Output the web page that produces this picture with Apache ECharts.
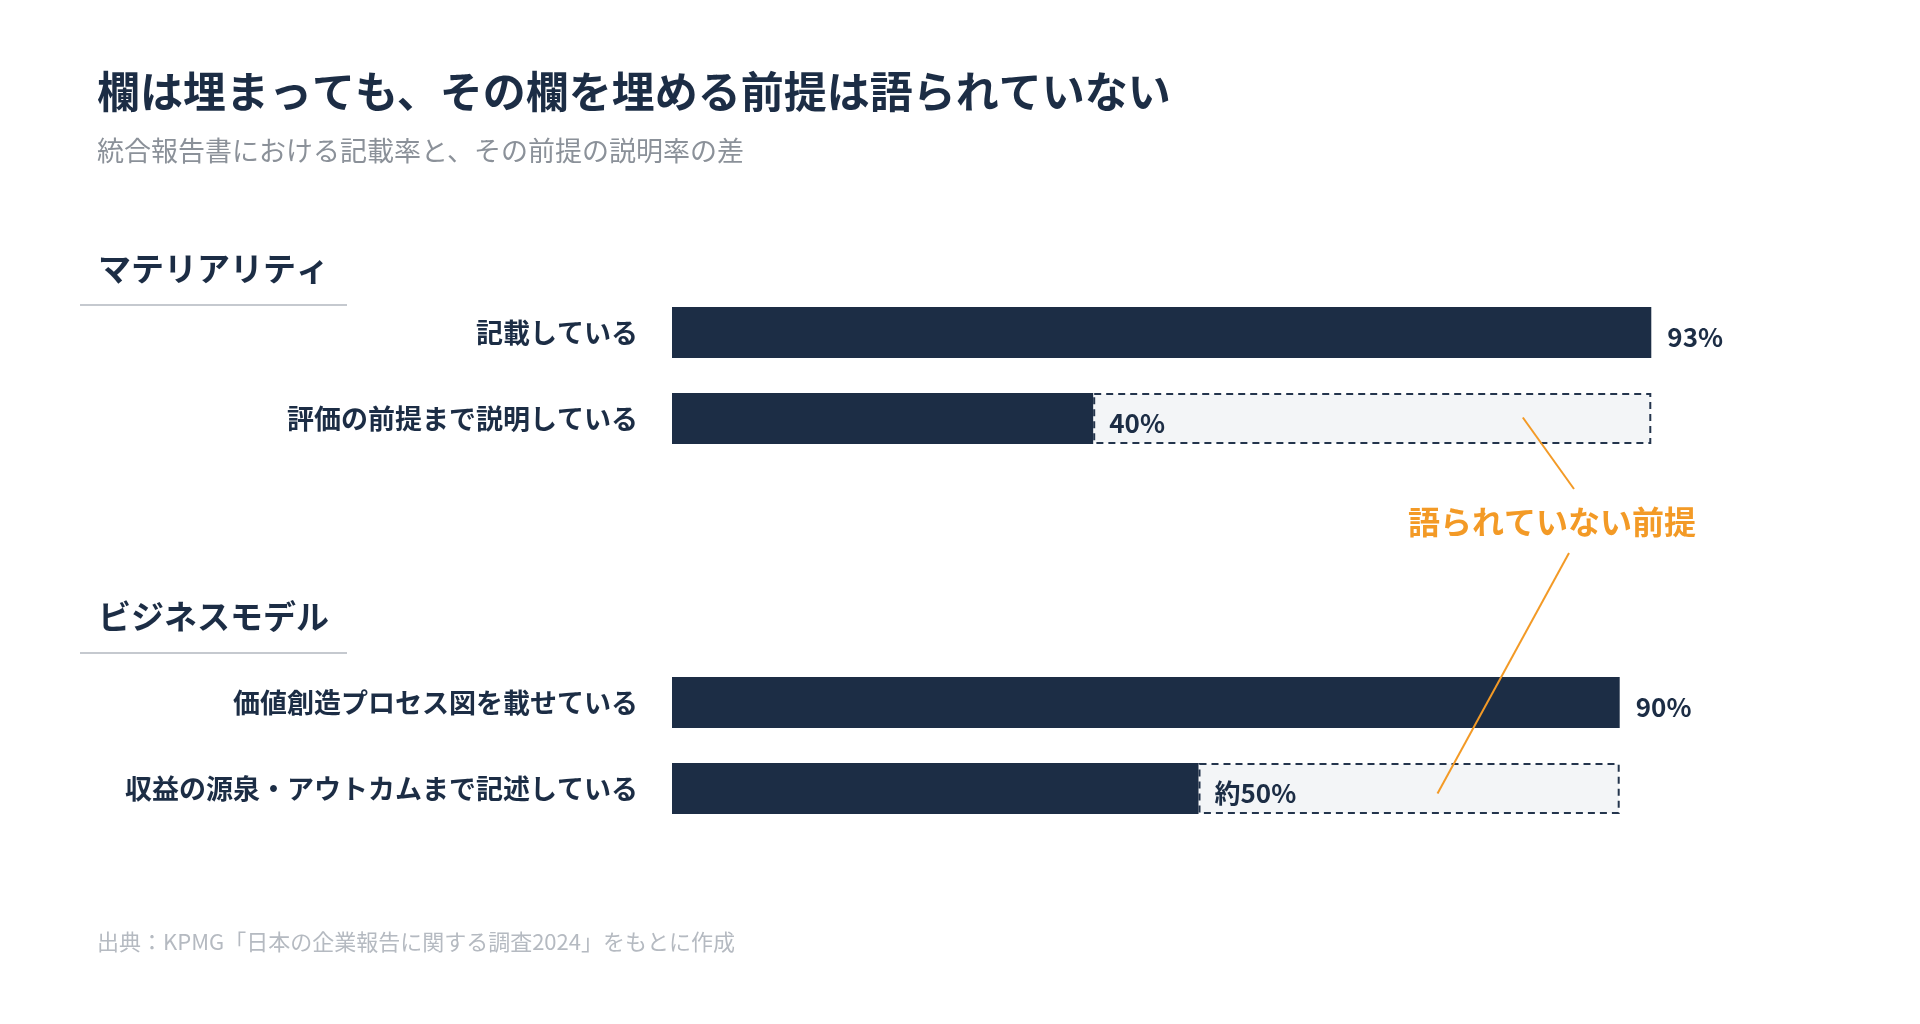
<!DOCTYPE html>
<html>
<head>
<meta charset="utf-8">
<script src="https://cdn.jsdelivr.net/npm/echarts@6/dist/echarts.min.js"></script>
<style>
html,body{margin:0;padding:0;background:#ffffff;}
#main{width:1920px;height:1024px;}
</style>
</head>
<body>
<div id="main"></div>
<script>
// ---- data ----
const chartTitle = '欄は埋まっても、その欄を埋める前提は語られていない';
const chartSubtitle = '統合報告書における記載率と、その前提の説明率の差';
const sourceNote = '出典：KPMG「日本の企業報告に関する調査2024」をもとに作成';
const sectionTitles = ['マテリアリティ', 'ビジネスモデル'];
const annotationText = '語られていない前提';

const categories1 = ['記載している', '評価の前提まで説明している'];
const values1 = [93, 40];
const labels1 = ['93%', '40%'];
const boxTo1 = [null, 93];

const categories2 = ['価値創造プロセス図を載せている', '収益の源泉・アウトカムまで記述している'];
const values2 = [90, 50];
const labels2 = ['90%', '約50%'];
const boxTo2 = [null, 90];

// ---- styling ----
const FONT = "'Noto Sans CJK JP','Noto Sans',sans-serif";
const NAVY = '#1c2d45';
const ORANGE = '#f39a26';

function gaps(vals, to) {
  return vals.map((v, i) => (to[i] == null ? null : to[i] - v));
}

const chart = echarts.init(document.getElementById('main'), null, {renderer: 'canvas'});

function barSeries(idx, vals, labels) {
  return {
    type: 'bar',
    xAxisIndex: idx, yAxisIndex: idx,
    stack: 's' + idx,
    barWidth: 51,
    data: vals,
    itemStyle: {color: NAVY},
    label: {
      show: true,
      position: 'right',
      distance: 16,
      offset: [0, 5],
      formatter: p => labels[p.dataIndex],
      color: NAVY,
      fontFamily: FONT,
      fontSize: 26,
      fontWeight: 'bold'
    },
    z: 3
  };
}
function gapSeries(idx, vals, to) {
  return {
    type: 'bar',
    xAxisIndex: idx, yAxisIndex: idx,
    stack: 's' + idx,
    barWidth: 51,
    data: gaps(vals, to),
    itemStyle: {
      color: '#f3f5f7',
      borderColor: '#24354d',
      borderWidth: 2,
      borderType: [7, 5]
    },
    label: {show: false},
    z: 2
  };
}
function catAxis(idx, cats) {
  return {
    type: 'category', gridIndex: idx, data: cats, inverse: true,
    axisLine: {show: false}, axisTick: {show: false}, splitLine: {show: false},
    axisLabel: {
      margin: 34, color: NAVY, fontFamily: FONT, fontSize: 27, fontWeight: 'bold'
    }
  };
}
function valAxis(idx) {
  return {
    type: 'value', gridIndex: idx, min: 0, max: 100, show: false,
    splitLine: {show: false}
  };
}

const option = {
  animation: false,
  backgroundColor: '#ffffff',
  grid: [
    {left: 672, right: 195, top: 289.5, height: 172},
    {left: 672, right: 195, top: 659.5, height: 172}
  ],
  xAxis: [valAxis(0), valAxis(1)],
  yAxis: [catAxis(0, categories1), catAxis(1, categories2)],
  series: [
    barSeries(0, values1, labels1),
    gapSeries(0, values1, boxTo1),
    barSeries(1, values2, labels2),
    gapSeries(1, values2, boxTo2)
  ]
};
chart.setOption(option);

// annotation anchors derived from the chart's own scales
const a1 = chart.convertToPixel({gridIndex: 0}, [80.8, 1]);
const a2 = chart.convertToPixel({gridIndex: 1}, [72.7, 1]);

chart.setOption({
  graphic: [
    {type: 'text', position: [97, 92], style: {text: chartTitle, font: 'bold 43px ' + FONT, fill: NAVY, textVerticalAlign: 'middle'}, silent: true},
    {type: 'text', position: [97, 151], style: {text: chartSubtitle, font: '27px ' + FONT, fill: '#8b9199', textVerticalAlign: 'middle'}, silent: true},
    {type: 'text', position: [98, 268], style: {text: sectionTitles[0], font: 'bold 33px ' + FONT, fill: NAVY, textVerticalAlign: 'middle'}, silent: true},
    {type: 'line', shape: {x1: 80, y1: 305, x2: 347, y2: 305}, style: {stroke: '#c5c9cf', lineWidth: 2}, silent: true},
    {type: 'text', position: [98, 616], style: {text: sectionTitles[1], font: 'bold 33px ' + FONT, fill: NAVY, textVerticalAlign: 'middle'}, silent: true},
    {type: 'line', shape: {x1: 80, y1: 653, x2: 347, y2: 653}, style: {stroke: '#c5c9cf', lineWidth: 2}, silent: true},
    {type: 'text', position: [97, 942], style: {text: sourceNote, font: '22px ' + FONT, fill: '#b5bac1', textVerticalAlign: 'middle'}, silent: true},
    {type: 'text', position: [1552, 522], style: {text: annotationText, font: 'bold 32px ' + FONT, fill: ORANGE, textAlign: 'center', textVerticalAlign: 'middle'}, silent: true, z: 10},
    {type: 'line', shape: {x1: a1[0], y1: a1[1] - 1, x2: 1574, y2: 489}, style: {stroke: ORANGE, lineWidth: 2}, silent: true, z: 10},
    {type: 'line', shape: {x1: 1569, y1: 553, x2: a2[0], y2: a2[1] + 5}, style: {stroke: ORANGE, lineWidth: 2}, silent: true, z: 10}
  ]
});
</script>
</body>
</html>
